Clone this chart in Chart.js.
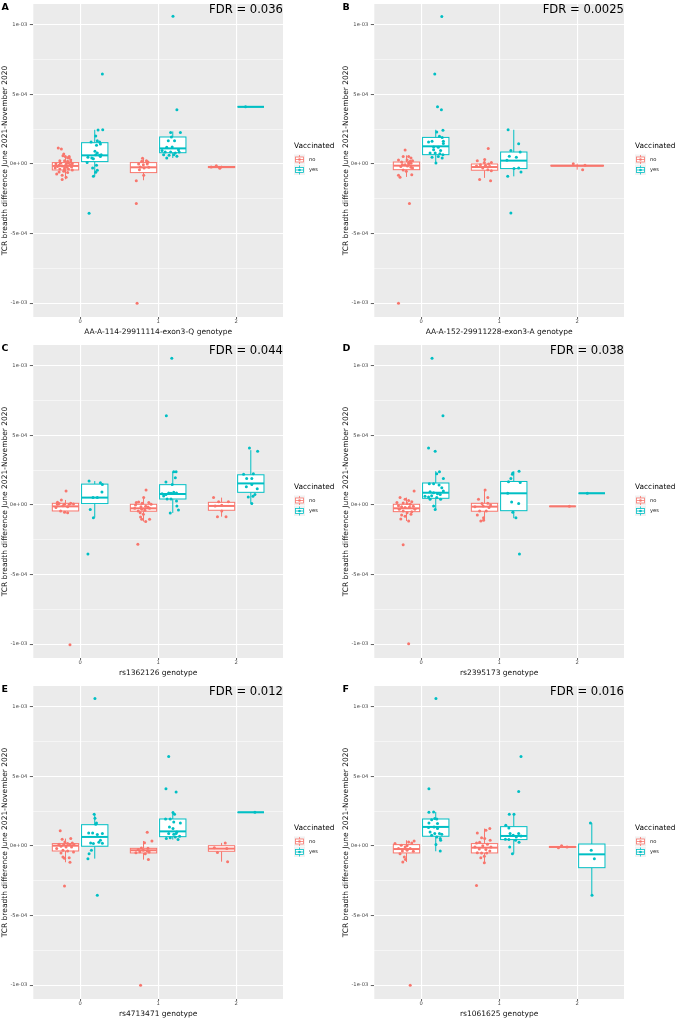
<!DOCTYPE html>
<html>
<head>
<meta charset="utf-8">
<script src="https://cdn.jsdelivr.net/npm/chart.js@4.4.1/dist/chart.umd.min.js"></script>
<style>
  html, body { margin: 0; padding: 0; background: #fff; overflow: hidden; }
  #fig { position: relative; width: 676px; height: 1018px; overflow: hidden; }
  #fig canvas { position: absolute; }
</style>
</head>
<body>
<div id="fig"></div>
<script>
// values are in units of 1e-4 (TCR breadth difference)
const categories = [0, 1, 2];
const yTicks = [-10, -7.5, -5, -2.5, 0, 2.5, 5, 7.5, 10];
const panelLetters = ['A', 'B', 'C', 'D', 'E', 'F'];
const fdrLabels = ['FDR = 0.036', 'FDR = 0.0025', 'FDR = 0.044', 'FDR = 0.038', 'FDR = 0.012', 'FDR = 0.016'];
const xTitles = [
  'AA-A-114-29911114-exon3-Q genotype',
  'AA-A-152-29911228-exon3-A genotype',
  'rs1362126 genotype',
  'rs2395173 genotype',
  'rs4713471 genotype',
  'rs1061625 genotype'
];
const yTitle = 'TCR breadth difference June 2021-November 2020';
const groups = ['no', 'yes'];

// box rows: [genotype, lower whisker, q1, median, q3, upper whisker]
const boxesA_no  = [[0, -1.10, -0.43, -0.14, 0.10, 0.55], [1, -1.17, -0.62, -0.24, 0.10, 0.43], [2, -0.31, -0.26, -0.22, -0.18, -0.12]];
const boxesA_yes = [[0, -0.89, 0.17, 0.62, 1.53, 2.46], [1, 0.43, 0.81, 1.12, 1.94, 2.34], [2, 4.11, 4.11, 4.11, 4.11, 4.11]];
const boxesB_no  = [[0, -0.93, -0.41, -0.12, 0.14, 0.62], [1, -1.0, -0.45, -0.22, 0, 0.33], [2, -0.41, -0.14, -0.12, -0.10, 0.02]];
const boxesB_yes = [[0, 0.07, 0.67, 1.27, 1.91, 2.46], [1, -0.89, -0.33, 0.24, 0.86, 2.46]];
const boxesC_no  = [[0, -0.55, -0.43, -0.10, 0.12, 0.36], [1, -1.19, -0.45, -0.24, 0.05, 0.53], [2, -0.84, -0.38, -0.07, 0.19, 0.53]];
const boxesC_yes = [[0, -0.91, 0.10, 0.53, 1.50, 1.72], [1, -0.57, 0.43, 0.79, 1.46, 2.39], [2, 0.10, 0.91, 1.55, 2.17, 3.94]];
const boxesD_no  = [[0, -1.15, -0.48, -0.24, 0.05, 0.53], [1, -1.15, -0.45, -0.12, 0.12, 1.07], [2, -0.10, -0.10, -0.10, -0.10, -0.10]];
const boxesD_yes = [[0, -0.33, 0.48, 0.88, 1.58, 2.43], [1, -0.95, -0.41, 0.84, 1.69, 2.43], [2, 0.84, 0.84, 0.84, 0.84, 0.84]];
const boxesE_no  = [[0, -1.17, -0.36, 0.02, 0.17, 0.53], [1, -0.98, -0.50, -0.31, -0.17, 0.36], [2, -1.13, -0.38, -0.19, 0.02, 0.22]];
const boxesE_yes = [[0, -0.91, -0.02, 0.65, 1.53, 2.28], [1, 0.46, 0.67, 1.05, 1.94, 2.45], [2, 2.42, 2.42, 2.42, 2.42, 2.42]];
const boxesF_no  = [[0, -1.15, -0.50, -0.22, 0.10, 0.41], [1, -1.20, -0.50, -0.12, 0.17, 1.25], [2, -0.12, -0.10, -0.07, -0.03, 0.02]];
const boxesF_yes = [[0, -0.38, 0.70, 1.37, 1.94, 2.45], [1, -0.55, 0.46, 0.72, 1.39, 2.28], [2, -3.55, -1.56, -0.60, 0.14, 1.65]];

// jittered points: [x position, value]
const pointsA_no = [[-0.28,1.15],[-0.24,1.08],[-0.22,0.60],[-0.19,0.53],[-0.16,0.45],[-0.14,0.53],[-0.26,0.24],[-0.20,0.24],[-0.16,0.19],[-0.12,0.14],[-0.31,0],[-0.25,0.05],[-0.18,-0.02],[-0.13,-0.05],[-0.10,0.02],[-0.29,-0.19],[-0.23,-0.14],[-0.17,-0.24],[-0.11,-0.22],[-0.32,-0.29],[-0.26,-0.36],[-0.20,-0.41],[-0.15,-0.36],[-0.10,-0.43],[-0.27,-0.57],[-0.21,-0.53],[-0.16,-0.62],[-0.30,-0.72],[-0.23,-0.81],[-0.18,-0.96],[-0.23,-1.12],[-0.14,0.43],[-0.21,0.72],[-0.12,0.29],[-0.27,-0.10],[-0.15,0.07],[-0.20,-0.29],
  [0.80,0.41],[0.85,0.24],[0.87,0.14],[0.75,0],[0.81,-0.05],[0.86,0],[0.77,-0.22],[0.82,-0.29],[0.88,-0.24],[0.76,-0.41],[0.815,-0.81],[0.72,-1.20],[0.72,-2.85],[0.73,-10.02],[0.79,0.19],
  [1.745,-0.12],[1.79,-0.31],[1.68,-0.22]];
const pointsA_yes = [[0.285,6.46],[0.23,2.44],[0.29,2.46],[0.20,2.01],[0.14,1.58],[0.22,1.67],[0.25,1.58],[0.26,1.44],[0.19,0.91],[0.10,0.48],[0.17,0.38],[0.26,0.53],[0.20,0.67],[0.25,0.62],[0.09,0.10],[0.16,-0.29],[0.21,-0.10],[0.22,-0.45],[0.20,-0.60],[0.17,-0.89],[0.115,-3.54],[0.27,0.67],[0.15,0.43],[0.22,0.79],[0.21,1.34],
  [1.19,10.62],[1.24,3.90],[1.16,2.27],[1.285,2.27],[1.17,1.94],[1.13,1.67],[1.21,1.67],[1.11,1.20],[1.18,1.22],[1.26,1.03],[1.05,0.96],[1.09,0.86],[1.16,0.86],[1.22,0.79],[1.27,0.86],[1.20,0.67],[1.14,0.62],[1.24,0.55],[1.11,0.43],[1.07,0.67],
  [2.12,4.11]];
const pointsB_no = [[-0.205,1.0],[-0.23,0.53],[-0.16,0.53],[-0.13,0.43],[-0.29,0.29],[-0.18,0.29],[-0.11,0.24],[-0.25,0.14],[-0.16,0.10],[-0.13,0.05],[-0.205,-0.05],[-0.175,-0.14],[-0.26,-0.19],[-0.13,-0.24],[-0.23,-0.43],[-0.11,-0.29],[-0.19,-0.53],[-0.12,-0.77],[-0.29,-0.81],[-0.27,-0.96],[-0.15,-2.85],[-0.29,-10.02],[-0.16,0],[-0.24,-0.05],[-0.14,0.19],
  [0.86,1.12],[0.815,0.33],[0.72,0.24],[0.76,-0.05],[0.825,-0.10],[0.865,0],[0.90,0.10],[0.71,-0.14],[0.79,-0.29],[0.855,-0.41],[0.90,-0.48],[0.75,-1.12],[0.89,-1.20],[0.88,-0.19],[0.81,0.10],
  [1.95,0.02],[2.07,-0.41],[2.10,-0.10]];
const pointsB_yes = [[0.265,10.6],[0.175,6.46],[0.21,4.11],[0.26,3.90],[0.20,2.30],[0.28,2.42],[0.235,1.99],[0.27,1.91],[0.095,1.58],[0.14,1.63],[0.285,1.63],[0.285,1.48],[0.16,1.22],[0.22,1.20],[0.115,0.79],[0.18,0.79],[0.24,0.74],[0.28,0.67],[0.14,0.48],[0.22,0.53],[0.27,0.43],[0.19,0.07],[0.16,1.03],[0.25,0.96],
  [1.115,2.46],[1.25,1.46],[1.15,0.96],[1.27,0.86],[1.13,0.55],[1.22,0.48],[1.10,0.26],[1.19,-0.33],[1.25,-0.29],[1.28,-0.57],[1.11,-0.89],[1.15,-3.52]];
const pointsC_no = [[-0.18,1.0],[-0.24,0.36],[-0.29,0.19],[-0.27,0.10],[-0.20,0.05],[-0.12,0.12],[-0.085,0.07],[-0.22,-0.05],[-0.16,-0.12],[-0.31,-0.19],[-0.25,-0.43],[-0.20,-0.53],[-0.16,-0.55],[-0.14,0.05],[-0.29,0.05],[-0.13,-10.05],
  [0.845,1.07],[0.815,0.53],[0.75,0.21],[0.795,0.12],[0.88,0.17],[0.91,0.05],[0.71,0],[0.78,-0.12],[0.84,-0.10],[0.70,-0.24],[0.79,-0.31],[0.83,-0.38],[0.89,-0.24],[0.745,-0.43],[0.77,-0.55],[0.81,-0.67],[0.775,-0.86],[0.79,-1.03],[0.84,-1.19],[0.89,-1.03],[0.74,-2.82],[0.87,-0.14],[0.72,0.17],
  [1.71,0.53],[1.775,0.24],[1.90,0.24],[1.815,-0.02],[1.73,-0.07],[1.815,-0.43],[1.76,-0.84],[1.87,-0.84]];
const pointsC_yes = [[0.115,1.72],[0.26,1.60],[0.285,1.48],[0.28,0.93],[0.165,0.53],[0.22,0.53],[0.13,-0.33],[0.17,-0.91],[0.10,-3.53],
  [1.175,10.55],[1.105,6.42],[1.20,2.39],[1.23,2.39],[1.22,1.96],[1.10,1.65],[1.18,1.48],[1.05,0.81],[1.10,0.76],[1.135,0.86],[1.165,0.84],[1.20,0.91],[1.235,0.86],[1.115,0.43],[1.165,0.43],[1.235,0.29],[1.24,-0.07],[1.26,-0.36],[1.155,-0.57],[1.07,0.64],
  [2.17,4.10],[2.275,3.87],[2.095,2.20],[2.22,2.24],[2.135,1.91],[2.20,1.91],[2.13,1.31],[2.20,1.48],[2.27,1.17],[2.24,0.76],[2.155,0.57],[2.215,0.62],[2.20,0.10]];
const pointsD_no = [[-0.09,1.0],[-0.27,0.53],[-0.205,0.41],[-0.16,0.33],[-0.12,0.24],[-0.23,0.14],[-0.18,0.10],[-0.14,0.05],[-0.29,-0.05],[-0.25,-0.12],[-0.205,-0.19],[-0.15,-0.14],[-0.10,-0.10],[-0.28,-0.31],[-0.23,-0.43],[-0.18,-0.55],[-0.12,-0.48],[-0.25,-0.72],[-0.205,-0.81],[-0.26,-1.0],[-0.16,-1.15],[-0.23,-2.86],[-0.16,-9.98],[-0.31,0.17],[-0.08,-0.31],[-0.13,-0.67],
  [0.82,1.07],[0.855,0.53],[0.735,0.41],[0.78,0.10],[0.855,0.12],[0.89,0],[0.69,-0.12],[0.795,-0.07],[0.75,-0.43],[0.835,-0.43],[0.72,-0.72],[0.80,-0.91],[0.765,-1.15],[0.80,-1.10],[0.87,-0.19],
  [1.90,-0.10]];
const pointsD_yes = [[0.14,10.55],[0.28,6.42],[0.095,4.10],[0.18,3.87],[0.235,2.39],[0.20,2.24],[0.285,1.91],[0.105,1.53],[0.16,1.53],[0.23,1.43],[0.265,1.24],[0.115,0.95],[0.16,0.88],[0.21,0.81],[0.245,0.76],[0.05,0.62],[0.095,0.57],[0.135,0.67],[0.20,0.53],[0.25,0.41],[0.16,-0.07],[0.18,-0.33],[0.285,1.0],[0.115,0.41],
  [1.255,2.43],[1.175,2.29],[1.15,1.91],[1.12,1.67],[1.27,1.62],[1.11,0.84],[1.16,0.21],[1.25,0.10],[1.175,-0.53],[1.215,-0.91],[1.26,-3.53],[1.17,2.2],
  [2.13,0.84]];
const pointsE_no = [[-0.255,1.10],[-0.23,0.48],[-0.12,0.53],[-0.195,0.29],[-0.10,0.22],[-0.16,0.17],[-0.27,0.12],[-0.21,0.10],[-0.13,0.10],[-0.08,0.10],[-0.245,-0.02],[-0.18,-0.07],[-0.11,-0.07],[-0.30,-0.19],[-0.22,-0.31],[-0.16,-0.36],[-0.245,-0.50],[-0.085,-0.43],[-0.22,-0.79],[-0.14,-0.84],[-0.20,-0.89],[-0.13,-1.17],[-0.20,-2.88],
  [0.86,0.98],[0.92,0.36],[0.825,0.24],[0.785,-0.14],[0.745,-0.26],[0.81,-0.31],[0.86,-0.36],[0.885,-0.43],[0.715,-0.48],[0.835,-0.55],[0.875,-0.98],[0.775,-10.02],[0.87,-0.17],[0.765,-0.41],
  [1.86,0.22],[1.72,-0.12],[1.88,-0.19],[1.76,-0.46],[1.89,-1.13]];
const pointsE_yes = [[0.19,10.60],[0.18,2.28],[0.19,1.99],[0.21,1.65],[0.20,1.56],[0.11,0.94],[0.16,0.94],[0.285,0.89],[0.22,0.82],[0.135,0.22],[0.26,0.41],[0.24,0.26],[0.17,0.17],[0.145,-0.31],[0.115,-0.55],[0.10,-0.91],[0.22,-3.55],[0.285,0.19],
  [1.135,6.43],[1.10,4.12],[1.23,3.88],[1.19,2.40],[1.21,2.28],[1.095,1.94],[1.155,1.94],[1.285,1.65],[1.20,1.73],[1.145,1.37],[1.19,1.25],[1.24,1.01],[1.135,0.89],[1.20,0.84],[1.275,0.70],[1.105,0.53],[1.155,0.60],[1.22,0.65],[1.255,0.46],[1.23,0.89],
  [2.24,2.42]];
const pointsF_no = [[-0.335,0.17],[-0.255,0.05],[-0.16,0.29],[-0.12,0.22],[-0.09,0.36],[-0.205,-0.07],[-0.14,-0.19],[-0.18,-0.31],[-0.24,-0.36],[-0.10,-0.38],[-0.27,-0.55],[-0.215,-0.79],[-0.20,-0.98],[-0.235,-1.15],[-0.14,-10.02],[-0.18,0.02],[-0.29,-0.19],
  [0.88,1.25],[0.83,1.13],[0.72,0.94],[0.775,0.60],[0.815,0.53],[0.885,0.41],[0.71,0.22],[0.75,0.26],[0.79,0.02],[0.85,0.12],[0.895,-0.07],[0.69,-0.07],[0.745,-0.22],[0.83,-0.26],[0.88,-0.36],[0.72,-0.48],[0.775,-0.50],[0.84,-0.50],[0.765,-0.84],[0.81,-1.20],[0.71,-2.85],[0.81,-0.74],
  [1.76,-0.12],[1.80,0.02],[1.87,-0.07]];
const pointsF_yes = [[0.19,10.60],[0.10,4.12],[0.10,2.42],[0.16,2.45],[0.175,1.97],[0.135,1.89],[0.20,1.94],[0.10,1.65],[0.21,1.61],[0.21,1.25],[0.115,1.01],[0.175,0.89],[0.235,0.89],[0.265,0.84],[0.135,0.77],[0.20,0.65],[0.245,0.53],[0.095,1.32],[0.19,0.10],[0.245,-0.36],[0.165,1.37],[0.25,0.41],
  [1.28,6.43],[1.25,3.91],[1.13,2.28],[1.19,2.28],[1.085,1.49],[1.125,1.29],[1.14,0.89],[1.18,0.77],[1.25,0.89],[1.28,0.72],[1.08,0.48],[1.125,0.46],[1.21,0.41],[1.255,0.26],[1.135,-0.07],[1.17,-0.55],[1.22,0.65],
  [2.17,1.65],[2.18,-0.31],[2.22,-0.91],[2.19,-3.55]];

const panelBoxes = [[boxesA_no, boxesA_yes], [boxesB_no, boxesB_yes], [boxesC_no, boxesC_yes],
                    [boxesD_no, boxesD_yes], [boxesE_no, boxesE_yes], [boxesF_no, boxesF_yes]];
const panelPoints = [[pointsA_no, pointsA_yes], [pointsB_no, pointsB_yes], [pointsC_no, pointsC_yes],
                     [pointsD_no, pointsD_yes], [pointsE_no, pointsE_yes], [pointsF_no, pointsF_yes]];

const FONT = 'DejaVu Sans';
const COLORS = ['#F8766D', '#00BFC4'];
const SIZE = 341;

const isMajor = v => Math.abs(v % 5) < 1e-9;
const fmtTick = v => (v * 1e-4).toExponential(0).replace(/e([+-])(\d)$/, 'e$10$2');

// grey panel, boxplots, legend and annotations
const ggDeco = {
  id: 'ggDeco',
  beforeDraw(chart) {
    const { ctx, chartArea: a } = chart;
    ctx.save();
    ctx.fillStyle = '#ebebeb';
    ctx.fillRect(a.left, a.top, a.right - a.left, a.bottom - a.top);
    ctx.restore();
  },
  beforeDatasetsDraw(chart, args, opts) {
    const { ctx, scales: { x, y } } = chart;
    ctx.save();
    opts.boxes.forEach((rows, s) => {
      const other = opts.boxes[1 - s];
      const col = COLORS[s];
      rows.forEach(([cat, lo, q1, med, q3, hi]) => {
        const paired = other.some(r => r[0] === cat);
        const c = paired ? cat + (s ? 0.1875 : -0.1875) : cat;
        const hw = paired ? 0.16875 : 0.3375;
        const xl = x.getPixelForValue(c - hw), xr = x.getPixelForValue(c + hw);
        const xc = x.getPixelForValue(c);
        ctx.strokeStyle = col;
        ctx.lineWidth = 1;
        ctx.beginPath();
        ctx.moveTo(xc, y.getPixelForValue(hi)); ctx.lineTo(xc, y.getPixelForValue(q3));
        ctx.moveTo(xc, y.getPixelForValue(q1)); ctx.lineTo(xc, y.getPixelForValue(lo));
        ctx.stroke();
        const yt = y.getPixelForValue(q3), yb = y.getPixelForValue(q1);
        ctx.fillStyle = '#fff';
        ctx.fillRect(xl, yt, xr - xl, yb - yt);
        ctx.strokeRect(xl, yt, xr - xl, yb - yt);
        ctx.lineWidth = 2;
        ctx.beginPath();
        const ym = y.getPixelForValue(med);
        ctx.moveTo(xl, ym); ctx.lineTo(xr, ym);
        ctx.stroke();
      });
    });
    ctx.restore();
  },
  afterDraw(chart, args, opts) {
    const { ctx, chartArea: a } = chart;
    ctx.save();
    // panel letter
    ctx.fillStyle = '#000';
    ctx.font = `bold 9.5px ${FONT}`;
    ctx.textAlign = 'left';
    ctx.textBaseline = 'alphabetic';
    ctx.fillText(opts.letter, 1.5, 9.5);
    // FDR annotation
    ctx.font = `11.6px ${FONT}`;
    ctx.textAlign = 'right';
    ctx.fillText(opts.fdr, a.right, a.top + 9);
    // legend
    const lx = a.right + 11, my = (a.top + a.bottom) / 2;
    ctx.textAlign = 'left';
    ctx.textBaseline = 'middle';
    ctx.font = `7.4px ${FONT}`;
    ctx.fillText('Vaccinated', lx, my - 14.5);
    groups.forEach((g, i) => {
      const col = COLORS[i];
      const ky = my - 6 + i * 10.5;
      ctx.fillStyle = '#f2f2f2';
      ctx.fillRect(lx, ky, 11, 10);
      ctx.strokeStyle = col;
      ctx.lineWidth = 0.8;
      ctx.beginPath();
      ctx.moveTo(lx + 5.5, ky + 0.5); ctx.lineTo(lx + 5.5, ky + 9.5);
      ctx.stroke();
      ctx.fillStyle = '#fff';
      ctx.fillRect(lx + 1.5, ky + 2.5, 8, 5);
      ctx.strokeRect(lx + 1.5, ky + 2.5, 8, 5);
      ctx.beginPath();
      ctx.moveTo(lx + 1.5, ky + 5); ctx.lineTo(lx + 9.5, ky + 5);
      ctx.stroke();
      ctx.fillStyle = col;
      ctx.beginPath();
      ctx.arc(lx + 5.5, ky + 5, 1.3, 0, Math.PI * 2);
      ctx.fill();
      ctx.fillStyle = '#222';
      ctx.font = `5.2px ${FONT}`;
      ctx.fillText(g, lx + 15, ky + 5);
    });
    ctx.restore();
  }
};

const fig = document.getElementById('fig');

panelLetters.forEach((letter, i) => {
  const cv = document.createElement('canvas');
  cv.width = SIZE;
  cv.height = SIZE;
  cv.style.left = (i % 2) * SIZE + 'px';
  cv.style.top = Math.floor(i / 2) * SIZE + 'px';
  fig.appendChild(cv);

  const datasets = groups.map((g, s) => ({
    label: g,
    data: panelPoints[i][s],
    backgroundColor: COLORS[s],
    borderWidth: 0,
    pointRadius: 1.5
  }));

  new Chart(cv, {
    type: 'scatter',
    data: { datasets },
    options: {
      responsive: false,
      animation: false,
      devicePixelRatio: 1,
      events: [],
      layout: { padding: { left: 0, top: 2, right: 58, bottom: 0 } },
      plugins: {
        legend: { display: false },
        tooltip: { enabled: false },
        ggDeco: { boxes: panelBoxes[i], letter, fdr: fdrLabels[i] }
      },
      scales: {
        x: {
          type: 'linear',
          min: -0.6,
          max: 2.6,
          afterBuildTicks: s => { s.ticks = categories.map(v => ({ value: v })); },
          afterFit: s => { s.height = 24; s.paddingLeft = 0; s.paddingRight = 0; },
          border: { display: false },
          grid: { color: '#fff', lineWidth: 1.1, tickLength: 2, tickColor: '#333', tickWidth: 0.8 },
          ticks: { font: { family: FONT, size: 5.2 }, color: '#4d4d4d', padding: 0, maxRotation: 0, callback: v => String(v) },
          title: { display: true, text: xTitles[i], color: '#111', font: { family: FONT, size: 7.5 }, padding: { top: 0, bottom: 4.8 } }
        },
        y: {
          min: -11.0,
          max: 11.5,
          afterBuildTicks: s => { s.ticks = yTicks.map(v => ({ value: v })); },
          afterFit: s => { s.width = 33.3; s.paddingTop = 0; s.paddingBottom = 0; },
          border: { display: false },
          grid: {
            color: '#fff',
            lineWidth: c => isMajor(c.tick.value) ? 1.1 : 0.5,
            tickLength: 3.5,
            tickWidth: 0.8,
            tickColor: c => isMajor(c.tick.value) ? '#333' : 'rgba(0,0,0,0)'
          },
          ticks: {
            font: { family: FONT, size: 5.2 },
            color: '#4d4d4d',
            padding: 2.5,
            callback: v => isMajor(v) ? fmtTick(v) : ''
          },
          title: { display: true, text: yTitle, color: '#111', font: { family: FONT, size: 7.5 }, padding: { top: 0.5, bottom: 0 } }
        }
      }
    },
    plugins: [ggDeco]
  });
});
</script>
</body>
</html>
